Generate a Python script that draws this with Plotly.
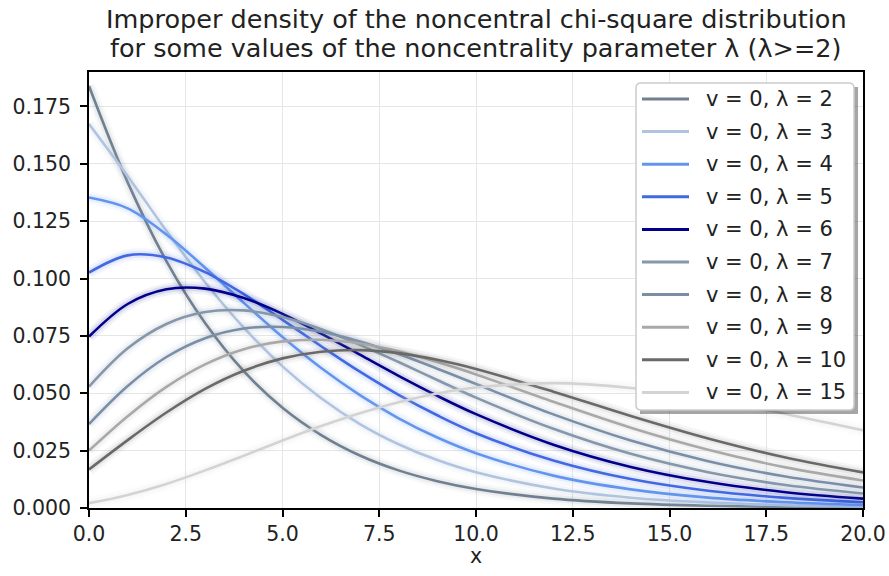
import plotly.graph_objects as go

# ---------------- data ----------------
x_vals = [0, 1, 2, 3, 4, 5, 6, 7, 8, 9, 10, 12, 14, 16, 18, 20]

lam_labels = ["2", "3", "4", "5", "6", "7", "8", "9", "10", "15"]

y_lam2 = [0.1839, 0.1419, 0.1076, 0.0806, 0.0596, 0.0437, 0.0318, 0.0229, 0.0164, 0.0117, 0.0083, 0.0041, 0.0020, 0.00097, 0.00046, 0.00022]
y_lam3 = [0.1673, 0.1446, 0.1208, 0.0984, 0.0786, 0.0617, 0.0478, 0.0366, 0.0278, 0.0209, 0.0156, 0.0085, 0.0045, 0.0024, 0.0012, 0.0006]
y_lam4 = [0.1353, 0.1306, 0.1192, 0.1047, 0.0894, 0.0745, 0.0610, 0.0492, 0.0391, 0.0307, 0.0239, 0.0141, 0.0081, 0.0045, 0.0025, 0.0013]
y_lam5 = [0.1026, 0.1101, 0.1092, 0.1028, 0.0932, 0.0820, 0.0705, 0.0594, 0.0493, 0.0404, 0.0326, 0.0207, 0.0126, 0.0075, 0.0044, 0.0025]
y_lam6 = [0.0747, 0.0889, 0.0953, 0.0956, 0.0915, 0.0846, 0.0760, 0.0668, 0.0576, 0.0489, 0.0409, 0.0276, 0.0179, 0.0113, 0.0069, 0.0041]
y_lam7 = [0.0529, 0.0696, 0.0802, 0.0854, 0.0861, 0.0832, 0.0779, 0.0711, 0.0636, 0.0558, 0.0481, 0.0345, 0.0236, 0.0156, 0.0100, 0.0063]
y_lam8 = [0.0366, 0.0532, 0.0658, 0.0740, 0.0782, 0.0789, 0.0768, 0.0726, 0.0671, 0.0607, 0.0540, 0.0408, 0.0294, 0.0204, 0.0137, 0.0089]
y_lam9 = [0.0250, 0.0400, 0.0528, 0.0626, 0.0692, 0.0726, 0.0733, 0.0717, 0.0683, 0.0636, 0.0582, 0.0463, 0.0350, 0.0254, 0.0177, 0.0120]
y_lam10 = [0.0168, 0.0296, 0.0416, 0.0519, 0.0598, 0.0652, 0.0681, 0.0688, 0.0675, 0.0646, 0.0606, 0.0507, 0.0401, 0.0303, 0.0220, 0.0155]
y_lam15 = [0.0021, 0.0057, 0.0105, 0.0164, 0.0228, 0.0294, 0.0357, 0.0413, 0.0461, 0.0499, 0.0525, 0.0544, 0.0523, 0.0475, 0.0410, 0.0339]

series = [y_lam2, y_lam3, y_lam4, y_lam5, y_lam6, y_lam7, y_lam8, y_lam9, y_lam10, y_lam15]

colors = ["#708090", "#b0c4de", "#6495ed", "#4169e1", "#00008b",
          "#8497ab", "#7a8fa6", "#a9a9a9", "#696969", "#d3d3d3"]

x_ticks = [0, 2.5, 5, 7.5, 10, 12.5, 15, 17.5, 20]
y_ticks = [0, 0.025, 0.05, 0.075, 0.1, 0.125, 0.15, 0.175]

title_lines = ["Improper density of the noncentral chi-square distribution",
               "for some values of the noncentrality parameter λ (λ>=2)"]
x_label = "x"

# ---------------- layout geometry (pixels) ----------------
W, H = 889, 576
L, R, T, B = 89, 863, 72, 508
FONT = "DejaVu Sans"
TXT = "#222222"


def px(xp):
    return (xp - L) / (R - L)


def py(yp):
    return (B - yp) / (B - T)


fig = go.Figure()

for name, ys, col in zip(lam_labels, series, colors):
    # soft glow behind each line
    for w, op in [(12, 0.05), (7, 0.09)]:
        fig.add_trace(go.Scatter(
            x=x_vals, y=ys, mode="lines", line=dict(color=col, width=w, shape="spline"),
            opacity=op, showlegend=False, hoverinfo="skip"))
    fig.add_trace(go.Scatter(
        x=x_vals, y=ys, mode="lines", name=f"v = 0, λ = {name}",
        line=dict(color=col, width=2.6, shape="spline"), showlegend=False))

# ---------------- manual legend ----------------
shapes = []
annotations = []
lx0, lx1, ly0, ly1 = 636, 854, 83, 410
r = 5
sh = 4
shapes.append(dict(type="rect", xref="paper", yref="paper",
                   x0=px(lx0 + sh), x1=px(lx1 + sh), y0=py(ly1 + sh), y1=py(ly0 + sh),
                   fillcolor="rgba(0,0,0,0.35)", line=dict(width=0), layer="above"))


def rounded_path(x0, y0, x1, y1, rr):
    return (f"M {px(x0 + rr)},{py(y0)} L {px(x1 - rr)},{py(y0)} "
            f"Q {px(x1)},{py(y0)} {px(x1)},{py(y0 + rr)} "
            f"L {px(x1)},{py(y1 - rr)} Q {px(x1)},{py(y1)} {px(x1 - rr)},{py(y1)} "
            f"L {px(x0 + rr)},{py(y1)} Q {px(x0)},{py(y1)} {px(x0)},{py(y1 - rr)} "
            f"L {px(x0)},{py(y0 + rr)} Q {px(x0)},{py(y0)} {px(x0 + rr)},{py(y0)} Z")


shapes.append(dict(type="path", xref="paper", yref="paper",
                   path=rounded_path(lx0, ly0, lx1, ly1, r),
                   fillcolor="white", line=dict(color="#cccccc", width=1.5), layer="above"))

entry_y0 = 99
entry_dy = 32.6
for i, (name, col) in enumerate(zip(lam_labels, colors)):
    yy = entry_y0 + i * entry_dy
    shapes.append(dict(type="line", xref="paper", yref="paper",
                       x0=px(642), x1=px(689), y0=py(yy), y1=py(yy),
                       line=dict(color=col, width=3), layer="above"))
    annotations.append(dict(xref="paper", yref="paper", x=px(704), y=py(yy),
                            xanchor="left", yanchor="middle", showarrow=False,
                            text=f"v = 0, λ = {name}",
                            font=dict(family=FONT, size=21, color=TXT)))

# title as two centred lines
for line_text, cy in zip(title_lines, [19, 48]):
    annotations.append(dict(xref="paper", yref="paper", x=0.5, y=py(cy),
                            xanchor="center", yanchor="middle", showarrow=False,
                            text=line_text, font=dict(family=FONT, size=25.5, color=TXT)))

# x-axis label
annotations.append(dict(xref="paper", yref="paper", x=0.5, y=py(556),
                        xanchor="center", yanchor="middle", showarrow=False,
                        text=x_label, font=dict(family=FONT, size=20.5, color=TXT)))

axis_common = dict(showline=True, linecolor="black", linewidth=1.6, mirror=True,
                   ticks="outside", ticklen=7, tickwidth=1.6, tickcolor="black",
                   showgrid=True, gridcolor="#e6e6e6", gridwidth=1.3, zeroline=False,
                   automargin=False,
                   tickfont=dict(family=FONT, size=20.5, color=TXT))

fig.update_layout(
    width=W, height=H,
    margin=dict(l=L, r=W - R, t=T, b=H - B, pad=0, autoexpand=False),
    paper_bgcolor="white", plot_bgcolor="white",
    xaxis=dict(range=[0, 20], tickvals=x_ticks, tickformat=".1f", **axis_common),
    yaxis=dict(range=[0, 0.19], tickvals=y_ticks, tickformat=".3f",
               ticklabelstandoff=5, **axis_common),
    shapes=shapes, annotations=annotations, showlegend=False,
)

fig.write_html("out.html")
